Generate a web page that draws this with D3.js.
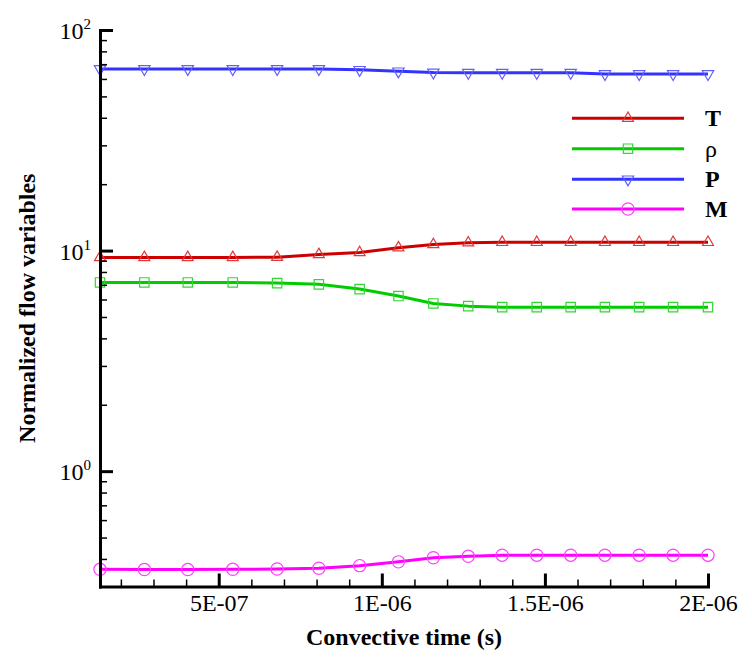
<!DOCTYPE html>
<html>
<head>
<meta charset="utf-8">
<script src="https://cdn.jsdelivr.net/npm/d3@7"></script>
<style>
  html, body { margin: 0; padding: 0; background: #fff; }
  svg { display: block; }
  text { font-family: "Liberation Serif", "Times New Roman", serif; fill: #000; }
</style>
</head>
<body>
<svg id="chart" width="752" height="665"></svg>
<script>
// ---- data ----
const times = [1.36e-7, 2.72e-7, 4.05e-7, 5.43e-7, 6.79e-7, 8.07e-7, 9.32e-7, 1.051e-6, 1.158e-6,
               1.265e-6, 1.369e-6, 1.475e-6, 1.579e-6, 1.684e-6, 1.789e-6, 1.893e-6, 2.0e-6];
const T   = [9.31, 9.31, 9.31, 9.31, 9.33, 9.6, 9.8, 10.3, 10.65, 10.85, 10.9, 10.9, 10.9, 10.9, 10.9, 10.9, 10.9];
const rho = [7.17, 7.17, 7.17, 7.17, 7.12, 7.03, 6.69, 6.22, 5.76, 5.60, 5.54, 5.54, 5.54, 5.54, 5.54, 5.54, 5.54];
const P   = [66.6, 66.6, 66.6, 66.6, 66.6, 66.6, 66.0, 65.0, 64.2, 64.0, 64.0, 64.0, 64.0, 63.2, 63.2, 63.2, 63.2];
const M   = [0.359, 0.358, 0.358, 0.359, 0.36, 0.363, 0.373, 0.388, 0.405, 0.411, 0.416, 0.416, 0.416, 0.416, 0.416, 0.416, 0.416];

const seriesNames = ["T", "\u03C1", "P", "M"];
const xTickValues = [5e-7, 1e-6, 1.5e-6, 2e-6];
const xTickLabels = ["5E-07", "1E-06", "1.5E-06", "2E-06"];
const yTickValues = [1, 10, 100];
const yTickExponents = ["0", "1", "2"];
const xDomain = [1.36e-7, 2e-6];
const yDomain = [0.3, 100];

// ---- layout ----
const svg = d3.select("#chart");
const L = 100, R = 708, Tp = 30, B = 586.5;

const x = d3.scaleLinear().domain(xDomain).range([L, R]);
const y = d3.scaleLog().domain(yDomain).range([B, Tp]);

const styles = [
  { data: T,   line: "#cc0000", mark: "#e03a3a", sym: "tri",  bold: true },
  { data: rho, line: "#00cc00", mark: "#33d633", sym: "sq",   bold: false },
  { data: P,   line: "#3333ff", mark: "#6060ff", sym: "tdn",  bold: true },
  { data: M,   line: "#ff00ff", mark: "#ff40ff", sym: "circ", bold: true }
];

function symPath(kind) {
  if (kind === "tri")  return d3.symbol().type(d3.symbolTriangle).size(52)();
  if (kind === "tdn")  return d3.symbol().type(d3.symbolTriangle).size(56)();
  if (kind === "sq")   return d3.symbol().type(d3.symbolSquare).size(88)();
  return d3.symbol().type(d3.symbolCircle).size(118)();
}
function symTransform(kind, px, py) {
  return kind === "tdn" ? `translate(${px},${py}) rotate(180)` : `translate(${px},${py})`;
}

const lineGen = d3.line().x((d, i) => x(times[i])).y(d => y(d));

// series
const gS = svg.append("g");
styles.forEach(s => {
  gS.append("path").attr("d", lineGen(s.data))
    .attr("fill", "none").attr("stroke", s.line).attr("stroke-width", 3)
    .attr("stroke-linejoin", "round");
  gS.selectAll(null).data(s.data).enter().append("path")
    .attr("d", symPath(s.sym))
    .attr("transform", (d, i) => symTransform(s.sym, x(times[i]), y(d)))
    .attr("fill", "none").attr("stroke", s.mark).attr("stroke-width", 1.2);
});

// ---- x axis ----
const xMinor = d3.range(2, 20).map(k => k * 1e-7).filter(v => ![5,10,15].includes(Math.round(v / 1e-7)));
const gxMinor = svg.append("g").attr("transform", `translate(0,${B})`)
  .call(d3.axisBottom(x).tickValues(xMinor).tickSizeInner(-7).tickSizeOuter(0).tickFormat(""));
gxMinor.select(".domain").remove();
gxMinor.selectAll("line").attr("stroke", "#000").attr("stroke-width", 1.5);

const gx = svg.append("g").attr("transform", `translate(0,${B})`)
  .call(d3.axisBottom(x).tickValues(xTickValues).tickSizeInner(-13).tickSizeOuter(0)
        .tickFormat((d, i) => xTickLabels[i]));
gx.select(".domain").attr("stroke", "#000").attr("stroke-width", 3).attr("stroke-linecap", "square");
gx.selectAll("line").attr("stroke", "#000").attr("stroke-width", 3);
gx.selectAll("text").attr("y", 24.5).attr("dy", 0)
  .style("font-family", '"Liberation Serif", "Times New Roman", serif').style("font-size", "24px").attr("fill", "#000");

// ---- y axis ----
const yMinor = [];
[0.1, 1, 10].forEach(dec => d3.range(2, 10).forEach(k => {
  const v = k * dec;
  if (v >= yDomain[0] - 1e-9 && v <= yDomain[1] && !yTickValues.includes(v)) yMinor.push(v);
}));
const gyMinor = svg.append("g").attr("transform", `translate(${L},0)`)
  .call(d3.axisLeft(y).tickValues(yMinor).tickSizeInner(-7).tickSizeOuter(0).tickFormat(""));
gyMinor.select(".domain").remove();
gyMinor.selectAll("line").attr("stroke", "#000").attr("stroke-width", 1.5);

const gy = svg.append("g").attr("transform", `translate(${L},0)`)
  .call(d3.axisLeft(y).tickValues(yTickValues).tickSizeInner(-13).tickSizeOuter(0).tickFormat(""));
gy.select(".domain").attr("stroke", "#000").attr("stroke-width", 3).attr("stroke-linecap", "square");
gy.selectAll("line").attr("stroke", "#000").attr("stroke-width", 3);

yTickValues.forEach((v, i) => {
  const t = svg.append("text").attr("x", 91).attr("y", y(v) + 9)
    .attr("text-anchor", "end").style("font-size", "24px");
  t.append("tspan").text("10");
  t.append("tspan").attr("dy", -10).style("font-size", "15px").text(yTickExponents[i]);
});

// ---- axis titles ----
svg.append("text").attr("x", (L + R) / 2).attr("y", 645).attr("text-anchor", "middle")
  .style("font-size", "24px").style("font-weight", "bold").text("Convective time (s)");
svg.append("text").attr("transform", `translate(35,${(Tp + B) / 2}) rotate(-90)`).attr("text-anchor", "middle")
  .style("font-size", "24px").style("font-weight", "bold").text("Normalized flow variables");

// ---- legend ----
const legRows = [118.3, 148.7, 179.3, 209];
styles.forEach((s, i) => {
  const ly = legRows[i];
  svg.append("line").attr("x1", 572).attr("x2", 684).attr("y1", ly).attr("y2", ly)
    .attr("stroke", s.line).attr("stroke-width", 3);
  svg.append("path").attr("d", symPath(s.sym)).attr("transform", symTransform(s.sym, 628, ly))
    .attr("fill", "none").attr("stroke", s.mark).attr("stroke-width", 1.2);
  svg.append("text").attr("x", 705).attr("y", ly + 8)
    .style("font-size", "24px").style("font-weight", s.bold ? "bold" : "normal").text(seriesNames[i]);
});
</script>
</body>
</html>
